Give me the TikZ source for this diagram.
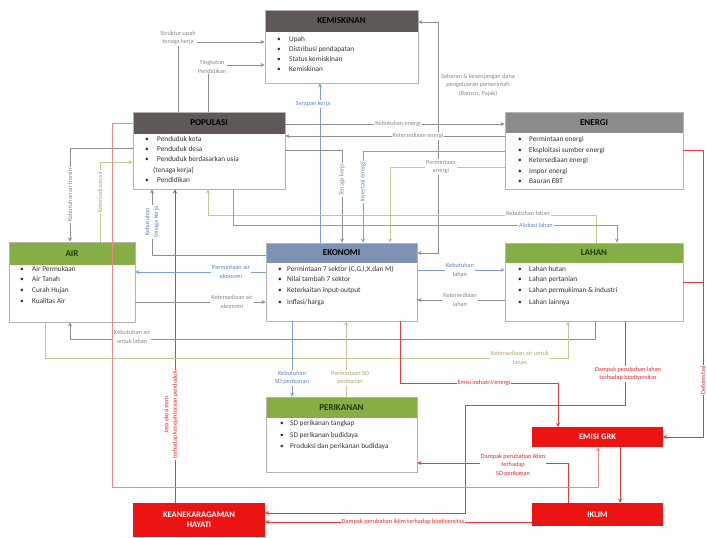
\documentclass[tikz,border=0pt]{standalone}
\usepackage{fontspec}
\setmainfont{Carlito}
\usetikzlibrary{fit,arrows.meta}
\definecolor{hdrdark}{HTML}{5E5957}
\definecolor{hdrgray}{HTML}{8C8C8C}
\definecolor{hdrblue}{HTML}{7D91B4}
\definecolor{hdrgreen}{HTML}{86AE45}
\definecolor{boxred}{HTML}{EC1313}
\definecolor{framegray}{HTML}{B4B4B4}
\definecolor{itemtext}{HTML}{333333}
\definecolor{cgray}{HTML}{8E8E8E}
\definecolor{cblue}{HTML}{7FA0D6}
\definecolor{ctan}{HTML}{C9C592}
\definecolor{cred}{HTML}{E83A3A}
\definecolor{cpink}{HTML}{EE8A8A}
\definecolor{tgray}{HTML}{8A8A8A}
\definecolor{tblue}{HTML}{5A85C8}
\definecolor{ttan}{HTML}{ABA66A}
\definecolor{tred}{HTML}{E42A2A}
\definecolor{ttlgreen}{HTML}{1E3A0E}
\tikzset{
  frame/.style={draw=framegray, line width=0.8pt, inner sep=0pt},
  hdrbox/.style={inner sep=0pt, draw=none},
  ttl/.style={font=\fontsize{9}{10}\selectfont\bfseries, inner sep=0pt},
  itm/.style={anchor=base west, inner sep=0pt, font=\fontsize{7.3}{9}\selectfont, text=itemtext},
  lbl/.style={font=\fontsize{6.3}{8.5}\selectfont, align=center, inner sep=1pt, fill=white},
  gline/.style={draw=cgray, line width=0.6pt},
  bline/.style={draw=cblue, line width=0.6pt},
  tline/.style={draw=ctan, line width=0.6pt},
  rline/.style={draw=cred, line width=0.8pt},
  pline/.style={draw=cpink, line width=0.7pt},
  arr/.style={-{Stealth[length=4pt,width=4pt]}},
  barr/.style={{Stealth[length=4pt,width=4pt]}-{Stealth[length=4pt,width=4pt]}},
  redbox/.style={fill=boxred, inner sep=0pt},
  redttl/.style={font=\fontsize{8.5}{10}\selectfont\bfseries, text=white, align=center, inner sep=0pt},
}
\newcounter{itc}
\newcommand\sysbox[8]{%
  \node[hdrbox, fill=#7, fit={(#2,#3) (#4,#6)}] (#1h) {};
  \node[frame, fit={(#2,#3) (#4,#5)}] (#1) {};
  \node[ttl] (#1t) at (#1h) {#8};
}
\newcommand\bitem[4]{%
  \stepcounter{itc}%
  \node[itm] (bu\arabic{itc}) at (#1,#3) {\textbullet};
  \node[itm] (it\arabic{itc}) at (#2,#3) {#4};
}
\newcommand\citem[3]{%
  \stepcounter{itc}%
  \node[itm] (it\arabic{itc}) at (#1,#2) {#3};
}
\begin{document}
\begin{tikzpicture}[x=1pt,y=-1pt]
\useasboundingbox (0,0) rectangle (707,538);
\fill[white] (0,0) rectangle (707,538);

% boxes
\sysbox{kem}{265}{10}{418}{83}{32}{hdrdark}{KEMISKINAN}
\bitem{277}{289}{41.5}{Upah}
\bitem{277}{289}{51.5}{Distribusi pendapatan}
\bitem{277}{289}{61.5}{Status kemiskinan}
\bitem{277}{289}{71.5}{Kemiskinan}

\sysbox{pop}{133}{112}{285}{189}{134}{hdrdark}{POPULASI}
\bitem{145}{157}{141.5}{Penduduk kota}
\bitem{145}{157}{151.5}{Penduduk desa}
\bitem{145}{157}{161.5}{Penduduk berdasarkan usia}
\citem{153}{172.5}{(tenaga kerja)}
\bitem{145}{157}{182.5}{Pendidikan}

\sysbox{ene}{505}{112}{683}{189}{133}{hdrgray}{ENERGI}
\bitem{518}{529}{141.5}{Permintaan energi}
\bitem{518}{529}{152}{Eksploitasi sumber energi}
\bitem{518}{529}{162.5}{Ketersediaan energi}
\bitem{518}{529}{173}{Impor energi}
\bitem{518}{529}{183.5}{Bauran EBT}

\sysbox{air}{9}{242}{135}{322}{265}{hdrgreen}{\color{ttlgreen}AIR}
\bitem{20}{32}{271.5}{Air Permukaan}
\bitem{20}{32}{281.5}{Air Tanah}
\bitem{20}{32}{292.5}{Curah Hujan}
\bitem{20}{32}{303.5}{Kualitas Air}

\sysbox{eko}{266}{243}{417}{321}{263}{hdrblue}{EKONOMI}
\bitem{278}{287}{271.5}{Permintaan 7 sektor (C,G,I,X,dan M)}
\bitem{278}{287}{281.5}{Nilai tambah 7 sektor}
\bitem{278}{287}{292.5}{Keterkaitan input-output}
\bitem{278}{287}{304}{Inflasi/harga}

\sysbox{lah}{505}{243}{683}{321}{263}{hdrgreen}{\color{ttlgreen}LAHAN}
\bitem{518}{529}{271.5}{Lahan hutan}
\bitem{518}{529}{281.5}{Lahan pertanian}
\bitem{518}{529}{292.5}{Lahan permukiman \& industri}
\bitem{518}{529}{304}{Lahan lainnya}

\sysbox{ikn}{266}{397}{417}{472}{418}{hdrgreen}{\color{ttlgreen}PERIKANAN}
\bitem{280}{290}{425.5}{SD perikanan tangkap}
\bitem{280}{290}{437.5}{SD perikanan budidaya}
\bitem{280}{290}{448.5}{Produksi dan perikanan budidaya}

\node[redbox, fit={(532,427) (663,447)}] (emi) {};
\node[redttl] (emit) at (emi) {EMISI GRK};
\node[redbox, fit={(532,503) (663,526)}] (ikl) {};
\node[redttl] (iklt) at (ikl) {IKLIM};
\node[redbox, fit={(133,503) (265,537)}] (keh) {};
\node[redttl] (keht) at (keh) {KEANEKARAGAMAN\\HAYATI};

% connectors
\draw[gline,arr] (pop.north -| 178,0) |- (kem.west |- 0,42);
\draw[gline,arr] (pop.north -| 208,0) |- (kem.west |- 0,65);
\draw[gline,barr] (kem.east |- 0,22) -| (438,253) -- (eko.east |- 0,253);
\draw[bline,arr] (eko.north -| 320,0) -- (kem.south -| 320,0);
\draw[gline,arr] (pop.east |- 0,124) -- (ene.west |- 0,124);
\draw[gline,arr] (ene.west |- 0,136) -- (pop.east |- 0,136);
\draw[gline,arr] (pop.east |- 0,150) -| (eko.north -| 342,0);
\draw[bline,arr] (ene.west |- 0,151) -| (eko.north -| 363,0);
\draw[tline,arr] (ene.west |- 0,167) -| (eko.north -| 390,0);
\draw[tline,arr] (lah.north -| 596,0) -- (596,215) -| (pop.south -| 208,0);
\draw[bline,arr] (pop.south -| 233,0) -- (233,225) -| (lah.north -| 617,0);
\draw[gline,arr] (pop.west |- 0,148) -| (air.north -| 70,0);
\draw[tline,arr] (air.north -| 100,0) |- (pop.west |- 0,162);
\draw[rline,arr] (keh.north -| 175,0) -- (pop.south -| 175,0);
\draw[gline,arr] (eko.west |- 0,255) -| (pop.south -| 152,0);
\draw[bline,arr] (eko.west |- 0,272) -- (air.east |- 0,272);
\draw[gline,arr] (air.east |- 0,302) -- (eko.west |- 0,302);
\draw[bline,arr] (eko.east |- 0,270) -- (lah.west |- 0,270);
\draw[gline,arr] (lah.west |- 0,300) -- (eko.east |- 0,300);
\draw[gline,arr] (lah.south -| 595,0) -- (595,339) -| (air.south -| 70,0);
\draw[tline,arr] (air.south -| 45,0) -- (45,358) -| (lah.south -| 568,0);
\draw[bline,arr] (eko.south -| 292,0) -- (ikn.north -| 292,0);
\draw[tline,arr] (ikn.north -| 346,0) -- (eko.south -| 346,0);
\draw[rline,arr] (eko.south -| 400,0) -- (400,383) -| (emi.north -| 558,0);
\draw[rline,arr] (lah.south -| 625,0) -- (625,405) -| (465,513) -- (keh.east |- 0,513);
\draw[rline,arr] (ene.east |- 0,150) -| (703,437) -- (emi.east |- 0,437);
\coordinate (rj) at (703,282);
\draw[rline] (lah.east |- 0,282) -- (rj);
\draw[rline,arr] (emi.south -| 620,0) -- (ikl.north -| 620,0);
\draw[rline,arr] (ikl.north -| 568,0) -- (568,463) -- (ikn.east |- 0,463);
\draw[rline,arr] (ikl.west |- 0,522) -- (keh.east |- 0,522);

% labels
\node[lbl,text=tgray] (l1) at (178,38) {Struktur upah\\tenaga kerja};
\node[lbl,text=tgray] (l2) at (212,67) {Tingkatan\\Pendidikan};
\node[lbl,text=tgray] (l3) at (478,85) {Sebaran \& kesenjangan dana\\pengeluaran pemerintah\\(Bansos, Pajak)};
\node[lbl,text=tblue] (l4) at (313,104) {Serapan kerja};
\node[lbl,text=tgray] (l5) at (398,124) {Kebutuhan energi};
\node[lbl,text=tgray] (l6) at (418,136) {Ketersediaan energi};
\node[lbl,text=tgray,rotate=90] (l7) at (342,180) {Tenaga kerja};
\node[lbl,text=tblue,rotate=90] (l8) at (363,182) {Investasi energi};
\node[lbl,text=tgray] (l9) at (441,167) {Permintaan\\energi};
\node[lbl,text=tgray] (l10) at (528,213) {Kebutuhan lahan};
\node[lbl,text=tblue] (l11) at (536,225) {Alokasi lahan};
\node[lbl,text=tgray,rotate=90] (l12) at (70,195) {Kebutuhan air bersih};
\node[lbl,text=ttan,rotate=90] (l13) at (100,192) {Ketersediaan air};
\node[lbl,text=tblue,rotate=90] (l14) at (152,222) {Kebutuhan\\tenaga kerja};
\node[lbl,text=tblue] (l15) at (231,272) {Permintaan air\\ekonomi};
\node[lbl,text=tgray] (l16) at (232,302) {Ketersediaan air\\ekonomi};
\node[lbl,text=tblue] (l17) at (460,270) {Kebutuhan\\lahan};
\node[lbl,text=tgray] (l18) at (460,300) {Ketersediaan\\lahan};
\node[lbl,text=tgray] (l19) at (132,337) {Kebutuhan air\\untuk lahan};
\node[lbl,text=ttan] (l20) at (520,358) {Ketersediaan air untuk\\lahan};
\node[lbl,text=tblue] (l21) at (292,378) {Kebutuhan\\SD perikanan};
\node[lbl,text=ttan] (l22) at (350,378) {Permintaan SD\\perikanan};
\node[lbl,text=tred] (l23) at (484,383) {Emisi industri/energi};
\node[lbl,text=tred] (l24) at (628,374) {Dampak perubahan lahan\\terhadap biodiversitas};
\node[lbl,text=tred,rotate=90] (l25) at (703,380) {Deforestasi};
\node[lbl,text=tred] (l26) at (513,465) {Dampak perubahan iklim\\terhadap\\SD perikanan};
\node[lbl,text=tred] (l27) at (403,522) {Dampak perubahan iklim terhadap biodiversitas};
\node[lbl,text=tred,rotate=90] (l28) at (171,415) {Jasa ekosistem\\terhadap kesejahteraan penduduk};

% red emission line from population (drawn on top)
\draw[pline,arr] (pop.west |- 0,123) -| (112,487) -| (emi.south -| 598,0);
\end{tikzpicture}
\end{document}
